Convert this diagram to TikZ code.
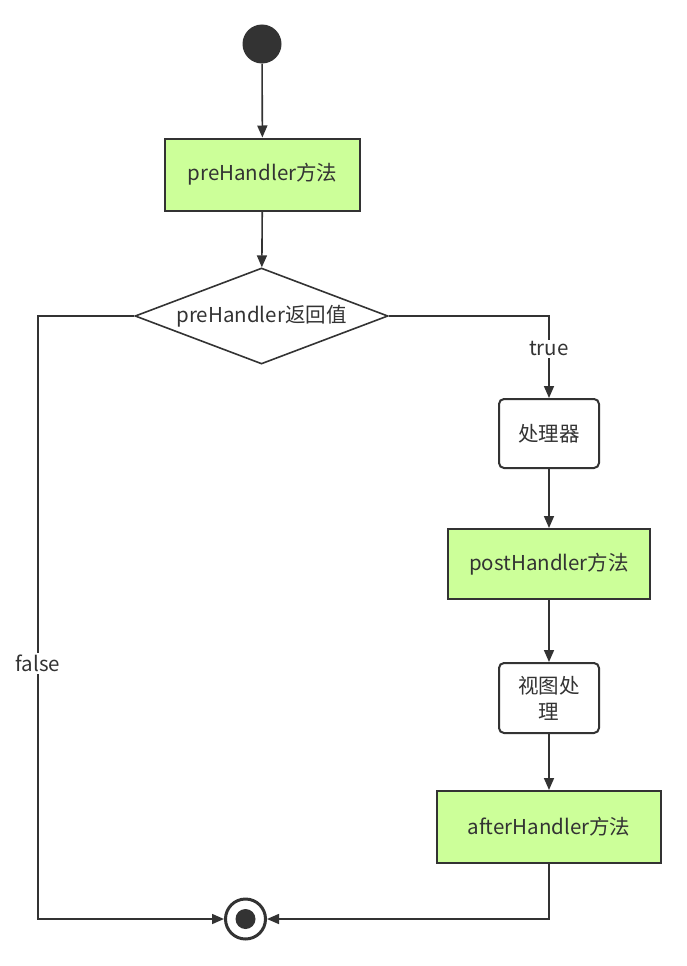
\documentclass[tikz,border=0pt]{standalone}
\usepackage{fontspec}
\setmainfont{Noto Sans CJK SC}
\usetikzlibrary{arrows.meta}
\usetikzlibrary{shapes.geometric}
\usetikzlibrary{positioning}
\definecolor{strich}{HTML}{333333}
\definecolor{gruen}{HTML}{CCFF99}
\tikzset{
  Linie/.style={draw=strich, line width=1.6pt}, % Verbindungslinien
  Pfeil/.style={Linie, -{Triangle[length=12pt,width=10pt]}}, % mit Pfeilspitze
  Methode/.style={draw=strich, line width=2pt, fill=gruen, minimum width=#1, minimum height=72pt, inner sep=0pt}, % gruene Kaesten
  Schritt/.style={draw=strich, line width=2pt, fill=white, rounded corners=5pt, minimum width=100pt, minimum height=70pt, align=center, inner sep=0pt},
  Raute/.style={diamond, draw=strich, line width=1.6pt, aspect=2.6, minimum width=253pt, minimum height=96pt, inner sep=0pt},
  Label/.style={fill=white, inner sep=2pt}
}

\begin{document}
\begin{tikzpicture}[x=1pt, y=-1pt,
font=\fontsize{20.5}{26}\selectfont, text=strich
]
\useasboundingbox (0,0) rectangle (687,966);

%Knoten
\node[circle, fill=strich, minimum size=39pt, inner sep=0pt] (start) at (262,44) {};
\node[Methode=195pt] (pre) at (262.5,174.5) {preHandler方法};
\node[Raute] (ret) at (261.5,316) {preHandler返回值};
\node[Schritt, minimum height=69pt] (proc) at (549,433.5) {处理器};
\node[Methode=202pt, minimum height=70pt] (post) at (549,564) {postHandler方法};
\node[Schritt] (view) at (549,698) {视图处\\理};
\node[Methode=224pt] (after) at (549,827) {afterHandler方法};

%Endknoten
\node[circle, draw=strich, line width=3pt, fill=white, minimum size=40pt, inner sep=0pt] (ende) at (245.5,919) {};
\node[circle, fill=strich, minimum size=20pt, inner sep=0pt] (endpunkt) at (ende.center) {};
\coordinate (falseecke) at (38,919);

%Verbindungen
\draw[Pfeil] (start) -- (pre);
\draw[Pfeil] (pre) -- (ret);
\draw[Pfeil] (ret.east) -| node[Label, pos=0.70] (ltrue) {true} (proc.north);
\draw[Pfeil] (proc) -- (post);
\draw[Pfeil] (post) -- (view);
\draw[Pfeil] (view) -- (after);
\draw[Pfeil] (after.south) |- (ende.east);
\draw[Pfeil] (ret.west) -| node[Label, pos=0.788] (lfalse) {false} (falseecke) -- (ende.west);

\end{tikzpicture}
\end{document}
